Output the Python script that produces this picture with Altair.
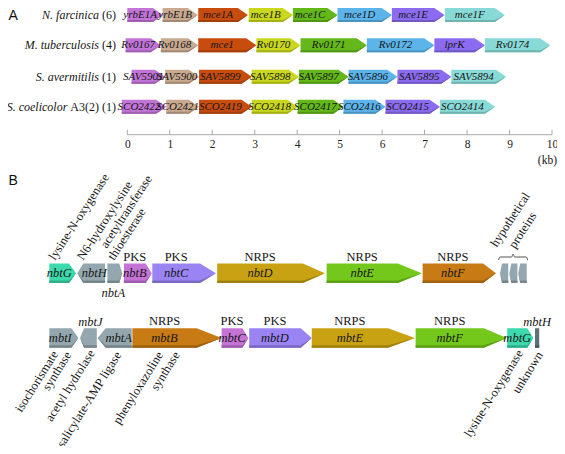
import altair as alt
import pandas as pd

# ---------------- Panel A data (kb) ----------------
species = ["N. farcinica", "M. tuberculosis", "S. avermitilis", "S. coelicolor"]
species_note = ["(6)", "(4)", "(1)", "A3(2) (1)"]
genes_a = [
    ["yrbE1A", "yrbE1B", "mce1A", "mce1B", "mce1C", "mce1D", "mce1E", "mce1F"],
    ["Rv0167", "Rv0168", "mce1", "Rv0170", "Rv0171", "Rv0172", "lprK", "Rv0174"],
    ["SAV5901", "SAV5900", "SAV5899", "SAV5898", "SAV5897", "SAV5896", "SAV5895", "SAV5894"],
    ["SCO2422", "SCO2421", "SCO2419", "SCO2418", "SCO2417", "SCO2416", "SCO2415", "SCO2414"],
]
start_a = [
    [0.00, 0.83, 1.67, 2.86, 3.90, 4.95, 6.23, 7.48],
    [-0.04, 0.79, 1.67, 3.04, 4.08, 5.64, 7.23, 8.42],
    [0.10, 0.89, 1.69, 2.93, 4.04, 5.21, 6.36, 7.63],
    [-0.13, 0.92, 1.69, 2.93, 4.01, 5.09, 6.08, 7.36],
]
end_a = [
    [0.84, 1.66, 2.84, 3.90, 4.95, 6.23, 7.47, 8.89],
    [0.79, 1.67, 3.04, 4.08, 5.64, 7.23, 8.42, 9.96],
    [0.89, 1.69, 2.93, 4.04, 5.21, 6.36, 7.63, 8.92],
    [0.92, 1.69, 2.93, 4.01, 5.09, 6.08, 7.36, 8.66],
]
kb_ticks = list(range(0, 11))

# ---------------- Panel B data (kb, own scale) ----------------
nbt_genes = ["nbtG", "nbtH", "nbtA", "nbtB", "nbtC", "nbtD", "nbtE", "nbtF", "hyp1", "hyp2", "hyp3"]
nbt_start = [0.00, 1.32, 2.74, 3.52, 4.86, 7.92, 13.08, 17.61, 21.26, 21.70, 22.12]
nbt_end = [1.26, 2.63, 3.44, 4.83, 7.86, 13.00, 17.57, 21.07, 21.65, 22.08, 22.52]
nbt_strand = [1, -1, 1, 1, 1, 1, 1, 1, -1, -1, -1]
nbt_domain = ["", "", "", "PKS", "PKS", "NRPS", "NRPS", "NRPS", "", "", ""]
nbt_kind = ["lys", "acc", "acc", "pks1", "pks2", "nrps1", "nrps2", "nrps3", "acc", "acc", "acc"]

mbt_genes = ["mbtI", "mbtJ", "mbtA", "mbtB", "mbtC", "mbtD", "mbtE", "mbtF", "mbtG", "mbtH"]
mbt_start = [0.00, 1.45, 2.28, 3.92, 8.13, 9.43, 12.38, 17.28, 21.60, 22.91]
mbt_end = [1.37, 2.24, 3.89, 8.13, 9.39, 12.38, 17.25, 21.58, 22.83, 23.11]
mbt_strand = [1, -1, -1, 1, 1, 1, 1, 1, 1, 0]
mbt_domain = ["", "", "", "NRPS", "PKS", "PKS", "NRPS", "NRPS", "", ""]
mbt_kind = ["acc", "acc", "acc", "nrps3", "pks1", "pks2", "nrps1", "nrps2", "lys", "unk"]

# ---------------- styles / layout ----------------
W, H = 549, 438
SERIF = "Liberation Serif, Times New Roman, DejaVu Serif, serif"
colors_a = ["#c274d8", "#c9a98f", "#c84c0e", "#c9d81e", "#64b81a", "#5cb4ea", "#8b6cf0", "#88dad6"]
kind_color = {"lys": "#3cd9ac", "acc": "#94a7ae", "pks1": "#c673d6", "pks2": "#9a84f4",
              "nrps1": "#c9a214", "nrps2": "#74c81c", "nrps3": "#c87a14", "unk": "#5f6f76"}
nbt_tip_px = [7, 6, 3, 6, 16, 22, 24, 13, 2, 2, 2]
mbt_tip_px = [7, 4, 8, 25, 6, 11, 27, 23, 6, 0]
nbt_label_pos = ["in", "in", "below", "in", "in", "in", "in", "in", "none", "none", "none"]
mbt_label_pos = ["in", "above", "in", "in", "in", "in", "in", "in", "in", "above"]

A_PX0, A_PPK = 119.3, 42.47        # chart px of 0 kb, px per kb (panel A)
B_PX0, B_PPK = 41.3, 21.2          # panel B
A_ROWS = [7.0, 37.3, 68.8, 98.8]
A_HALF = 7.0
A_TIP = 0.24
A_AXIS_Y = 126.7
B_ROWS = [265.3, 330.0]
B_HALF = 9.75

xa = alt.Scale(domain=[-A_PX0 / A_PPK, (W - A_PX0) / A_PPK], nice=False, zero=False)
xb = alt.Scale(domain=[-B_PX0 / B_PPK, (W - B_PX0) / B_PPK], nice=False, zero=False)
xp = alt.Scale(domain=[0, W], nice=False, zero=False)
ys = alt.Scale(domain=[0, H], reverse=True, nice=False, zero=False)


def shade(hex_color, f):
    h = hex_color.lstrip("#")
    r, g, b = (int(h[i:i + 2], 16) for i in (0, 2, 4))
    return "#%02x%02x%02x" % tuple(max(0, min(255, int(c * f))) for c in (r, g, b))


def poly(gid, s, e, strand, tip, yc, half, fill, band=0.0):
    """vertices of an arrow (x, y_top, y_bottom); band>0 gives only a bottom strip"""
    tip = min(tip, 0.7 * (e - s))
    top = yc - half
    bot = yc + half
    if band:
        top = bot - band
    if strand > 0:
        pts = [(s, top, bot), (e - tip, top, bot), (e, yc, yc)]
        if band:
            pts = [(s, top, bot), (e - tip, top, bot), (e, yc, yc)]
    elif strand < 0:
        pts = [(s, yc, yc), (s + tip, top, bot), (e, top, bot)]
    else:
        pts = [(s, top, bot), (e, top, bot)]
    return [dict(gid=gid, x=x, y=y0, y2=y1, fill=fill) for (x, y0, y1) in pts]


def area_layer(df, xs):
    return alt.Chart(df).mark_area(interpolate="linear", opacity=1).encode(
        x=alt.X("x:Q", scale=xs, axis=None),
        y=alt.Y("y:Q", scale=ys, axis=None, stack=None),
        y2="y2:Q",
        detail="gid:N",
        color=alt.Color("fill:N", scale=None),
    )


def text_layer(df, xs, **kw):
    return alt.Chart(df).mark_text(font=SERIF, color="#161616", **kw).encode(
        x=alt.X("x:Q", scale=xs, axis=None),
        y=alt.Y("y:Q", scale=ys, axis=None),
        text="t:N",
    )


# ---------- panel A geometry ----------
rows_a, rows_a_sh, lab_a = [], [], []
for r in range(4):
    for j, g in enumerate(genes_a[r]):
        s, e = start_a[r][j], end_a[r][j]
        rows_a += poly(f"A{r}_{j}", s, e, 1, A_TIP, A_ROWS[r], A_HALF, colors_a[j])
        rows_a_sh += poly(f"A{r}_{j}", s, e, 1, A_TIP, A_ROWS[r], A_HALF, shade(colors_a[j], 0.82), band=2.0)
        lab_a.append(dict(x=(s + e - A_TIP) / 2, y=A_ROWS[r], t=g))
df_a = pd.DataFrame(rows_a)
df_a_sh = pd.DataFrame(rows_a_sh)
df_lab_a = pd.DataFrame(lab_a)


def tw(txt, size):
    w = {"(": 0.333, ")": 0.333, " ": 0.25, "A": 0.722}
    return sum(w.get(c, 0.5) for c in txt) * size


SP_RIGHT, SP_SIZE = 108, 12
sp_note = pd.DataFrame([dict(x=SP_RIGHT, y=A_ROWS[i], t=species_note[i]) for i in range(4)])
sp_name = pd.DataFrame([dict(x=SP_RIGHT - tw(" " + species_note[i], SP_SIZE), y=A_ROWS[i], t=species[i])
                        for i in range(4)])

ticks_df = pd.DataFrame(dict(kb=kb_ticks, y=[A_AXIS_Y - 5] * len(kb_ticks), y2=[A_AXIS_Y] * len(kb_ticks)))
line_df = pd.DataFrame(dict(x=[min(kb_ticks)], x2=[max(kb_ticks)], y=[A_AXIS_Y]))

axis_a = alt.Axis(values=kb_ticks, format="d", labelFont=SERIF, labelFontSize=11.5, labelColor="#222",
                  ticks=False, domain=False, grid=False, labelPadding=4, offset=A_AXIS_Y - H,
                  title=None, labelFlush=False)

tick_layer = alt.Chart(ticks_df).mark_rule(color="#a8a8a8", strokeWidth=1).encode(
    x=alt.X("kb:Q", scale=xa, axis=axis_a),
    y=alt.Y("y:Q", scale=ys, axis=None),
    y2="y2:Q",
)
line_layer = alt.Chart(line_df).mark_rule(color="#a8a8a8", strokeWidth=1).encode(
    x=alt.X("x:Q", scale=xa, axis=None), x2="x2:Q",
    y=alt.Y("y:Q", scale=ys, axis=None),
)

# ---------- panel B geometry ----------
rows_b, rows_b_sh, lab_b, dom_b = [], [], [], []
for yc, names, st, en, sd, dm, kinds, tips, lpos in [
    (B_ROWS[0], nbt_genes, nbt_start, nbt_end, nbt_strand, nbt_domain, nbt_kind, nbt_tip_px, nbt_label_pos),
    (B_ROWS[1], mbt_genes, mbt_start, mbt_end, mbt_strand, mbt_domain, mbt_kind, mbt_tip_px, mbt_label_pos),
]:
    for j, g in enumerate(names):
        s, e, tip = st[j], en[j], tips[j] / B_PPK
        col = kind_color[kinds[j]]
        rows_b += poly(g, s, e, sd[j], tip, yc, B_HALF, col)
        rows_b_sh += poly(g, s, e, sd[j], tip, yc, B_HALF, shade(col, 0.8), band=2.5)
        if sd[j] > 0:
            cx = (s + e - tip) / 2
        elif sd[j] < 0:
            cx = (s + tip + e) / 2
        else:
            cx = (s + e) / 2
        if lpos[j] == "in":
            lab_b.append(dict(x=cx, y=yc, t=g))
        elif lpos[j] == "below":
            lab_b.append(dict(x=cx, y=yc + 19.4, t=g))
        elif lpos[j] == "above":
            lab_b.append(dict(x=cx, y=yc - 16.5, t=g))
        if dm[j]:
            dom_b.append(dict(x=cx, y=yc - 16.8, t=dm[j]))
df_b = pd.DataFrame(rows_b)
df_b_sh = pd.DataFrame(rows_b_sh)
df_lab_b = pd.DataFrame(lab_b)
df_dom_b = pd.DataFrame(dom_b)

# brace over hypothetical proteins
h0, h1 = nbt_start[8] - 1.5 / B_PPK, nbt_end[10] + 1.0 / B_PPK
hm = (h0 + h1) / 2
yb = B_ROWS[0] - 16.3
p = 1.5 / B_PPK
brace_df = pd.DataFrame(dict(
    x=[h0, h0 + p, hm - p, hm, hm + p, h1 - p, h1],
    y=[yb + 3, yb, yb, yb - 3, yb, yb, yb + 3],
))
brace_layer = alt.Chart(brace_df).mark_line(color="#555", strokeWidth=1, interpolate="monotone").encode(
    x=alt.X("x:Q", scale=xb, axis=None), y=alt.Y("y:Q", scale=ys, axis=None))

# rotated descriptions (chart px)
up_desc = pd.DataFrame([
    dict(x=47, y=253, t="lysine-N-oxygenase"),
    dict(x=75.3, y=253, t="N6-hydroxylysine"),
    dict(x=98.7, y=241, t="acetyltransferase"),
    dict(x=106, y=253, t="thioesterase"),
    dict(x=488.7, y=239.7, t="hypothetical"),
    dict(x=507, y=241.3, t="proteins"),
])
down_desc = pd.DataFrame([
    dict(x=47, y=344, t="isochorismate"),
    dict(x=60.3, y=344.7, t="synthase"),
    dict(x=83.7, y=343, t="acetyl hydrolase"),
    dict(x=110.3, y=344.7, t="salicylate-AMP ligase"),
    dict(x=152, y=344.7, t="phenyloxazoline"),
    dict(x=168.7, y=344.7, t="synthase"),
    dict(x=512, y=343, t="lysine-N-oxygenase"),
    dict(x=532, y=344.7, t="unknown"),
])
panel_df = pd.DataFrame([dict(x=0.5, y=8, t="A"), dict(x=0.5, y=172.7, t="B")])
kb_df = pd.DataFrame([dict(x=W, y=153.3, t="(kb)")])

layers = [
    area_layer(df_a, xa),
    area_layer(df_a_sh, xa),
    text_layer(df_lab_a, xa, fontSize=11, fontStyle="italic", align="center", baseline="middle"),
    text_layer(sp_note, xp, fontSize=SP_SIZE, align="right", baseline="middle"),
    text_layer(sp_name, xp, fontSize=SP_SIZE, fontStyle="italic", align="right", baseline="middle"),
    line_layer,
    tick_layer,
    text_layer(kb_df, xp, fontSize=11.5, align="right", baseline="middle"),
    area_layer(df_b, xb),
    area_layer(df_b_sh, xb),
    text_layer(df_lab_b, xb, fontSize=12.5, fontStyle="italic", align="center", baseline="middle"),
    text_layer(df_dom_b, xb, fontSize=12.5, align="center", baseline="middle"),
    brace_layer,
    text_layer(up_desc, xp, fontSize=12.5, align="left", baseline="alphabetic", angle=303),
    text_layer(down_desc, xp, fontSize=12.5, align="right", baseline="middle", angle=302),
    alt.Chart(panel_df).mark_text(font="Liberation Sans", fontSize=14, color="#111", align="left",
                                  baseline="middle").encode(
        x=alt.X("x:Q", scale=xp, axis=None), y=alt.Y("y:Q", scale=ys, axis=None), text="t:N"),
]

chart = alt.layer(*layers).resolve_scale(x="independent").properties(
    width=W, height=H, padding=0, autosize="none", background="white"
).configure_view(stroke=None)

chart.save("out.html", embed_options={"renderer": "svg", "actions": False})
